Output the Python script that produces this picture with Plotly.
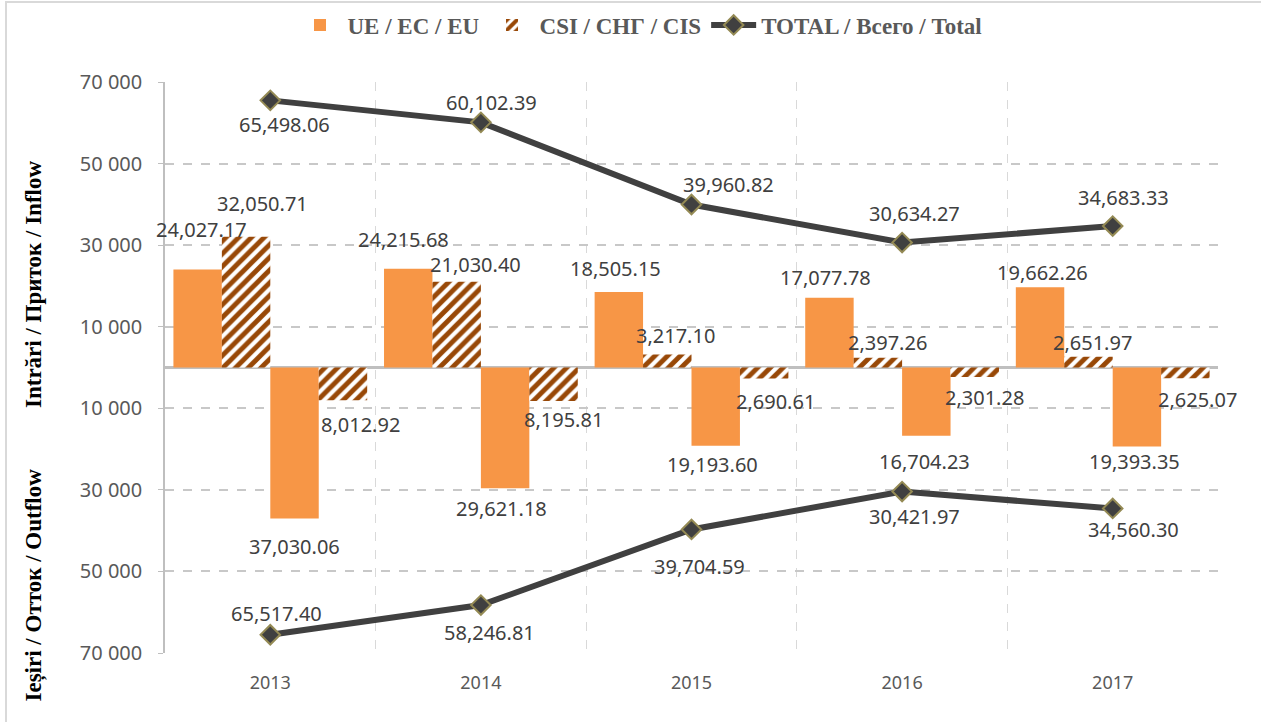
import plotly.graph_objects as go

years = ["2013", "2014", "2015", "2016", "2017"]
eu_in = [24027.17, 24215.68, 18505.15, 17077.78, 19662.26]
cis_in = [32050.71, 21030.40, 3217.10, 2397.26, 2651.97]
eu_out = [37030.06, 29621.18, 19193.60, 16704.23, 19393.35]
cis_out = [8012.92, 8195.81, 2690.61, 2301.28, 2625.07]
total_in = [65498.06, 60102.39, 39960.82, 30634.27, 34683.33]
total_out = [65517.40, 58246.81, 39704.59, 30421.97, 34560.30]

ytick_vals = [-70000, -50000, -30000, -10000, 10000, 30000, 50000, 70000]
ytick_text = ["70 000", "50 000", "30 000", "10 000", "10 000", "30 000", "50 000", "70 000"]

# label offsets (pixels): dx, dy (dy positive = up)
lab_eu_in = ([4, -5, -3, -4, 2], [40, 29, 24, 20, 15])
lab_cis_in = ([16, 19, 8, 10, 4], [33, 17, 19, 15, 14])
lab_eu_out = ([0, -4, -3, -2, -2], [-28, -20, -19, -26, -15])
lab_cis_out = ([18, 10, 11, 10, 12], [-24, -19, -23, -21, -21])
lab_tot_in = ([14, 11, 37, 12, 11], [-24, 20, 20, 29, 29])
lab_tot_out = ([6, 9, 8, 12, 21], [21, -27, -37, -25, -21])

ORANGE = "#F79646"
BROWN = "#984807"
LINEC = "#404040"
MARK_EDGE = "#948A54"
GRID = "#C8C8C8"
TXT = "#404040"
TICK = "#595959"
SERIF = "Liberation Serif"
SANS = "Noto Sans"

W, H = 1261, 722
ML, MR, MT, MB = 165, 43, 82, 69
PW, PH = W - ML - MR, H - MT - MB
BARGAP = 0.08

hatch = dict(shape="/", fgcolor=BROWN, bgcolor="white", size=9, solidity=0.55, fgopacity=1)

fig = go.Figure()
fig.add_trace(go.Bar(x=years, y=eu_in, name="UE / EC / EU", legendgroup="eu",
                     marker=dict(color=ORANGE, line=dict(width=0))))
fig.add_trace(go.Bar(x=years, y=cis_in, name="CSI / СНГ / CIS", legendgroup="cis",
                     marker=dict(color="white", pattern=hatch, line=dict(width=0))))
fig.add_trace(go.Bar(x=years, y=[-v for v in eu_out], name="UE / EC / EU", legendgroup="eu",
                     showlegend=False, marker=dict(color=ORANGE, line=dict(width=0))))
fig.add_trace(go.Bar(x=years, y=[-v for v in cis_out], name="CSI / СНГ / CIS", legendgroup="cis",
                     showlegend=False, marker=dict(color="white", pattern=hatch, line=dict(width=0))))

line_style = dict(color=LINEC, width=6)
marker_style = dict(symbol="diamond", size=15, color=LINEC, line=dict(color=MARK_EDGE, width=2))
fig.add_trace(go.Scatter(x=years, y=total_in, mode="lines+markers", name="TOTAL / Всего / Total",
                         legendgroup="tot", line=line_style, marker=marker_style))
fig.add_trace(go.Scatter(x=years, y=[-v for v in total_out], mode="lines+markers",
                         name="TOTAL / Всего / Total", legendgroup="tot", showlegend=False,
                         line=line_style, marker=marker_style))

# data labels
bw = (1 - BARGAP) / 4
offsets = [-1.5 * bw, -0.5 * bw, 0.5 * bw, 1.5 * bw]
annotations = []

def fmt(v):
    return f"{v:,.2f}"

series = [
    (eu_in, 1, offsets[0], lab_eu_in),
    (cis_in, 1, offsets[1], lab_cis_in),
    (eu_out, -1, offsets[2], lab_eu_out),
    (cis_out, -1, offsets[3], lab_cis_out),
    (total_in, 1, 0.0, lab_tot_in),
    (total_out, -1, 0.0, lab_tot_out),
]
for vals, sign, off, (dxs, dys) in series:
    for i, v in enumerate(vals):
        annotations.append(dict(
            x=i + off, y=sign * v, xref="x", yref="y", text=fmt(v), showarrow=False,
            xshift=dxs[i], yshift=dys[i], font=dict(family=SANS, size=20, color=TXT),
        ))

# y-axis titles
def py(pix):
    return (H - MB - pix) / PH

def px(pix):
    return (pix - ML) / PW

annotations.append(dict(x=px(33), y=py(285), xref="paper", yref="paper",
                        text="Intrări / Приток / Inflow", textangle=-90, showarrow=False,
                        xanchor="center", yanchor="middle",
                        font=dict(family=SERIF, size=23, color="#000000", weight="bold")))
annotations.append(dict(x=px(33), y=py(704), xref="paper", yref="paper",
                        text="Ieșiri / Отток / Outflow", textangle=-90, showarrow=False,
                        xanchor="center", yanchor="bottom",
                        font=dict(family=SERIF, size=23, color="#000000", weight="bold")))

shapes = [dict(type="rect", xref="paper", yref="paper",
               x0=px(6), x1=px(W + 20), y0=py(H + 20), y1=py(2),
               line=dict(color="#D9D9D9", width=2), fillcolor="rgba(0,0,0,0)", layer="below")]

fig.update_layout(
    width=W, height=H, autosize=False,
    margin=dict(l=ML, r=MR, t=MT, b=MB, autoexpand=False),
    paper_bgcolor="white", plot_bgcolor="white",
    barmode="group", bargap=BARGAP, bargroupgap=0,
    annotations=annotations, shapes=shapes,
    legend=dict(orientation="h", x=px(640), xanchor="center", y=py(25), yanchor="middle",
                font=dict(family=SERIF, size=23, color=TICK, weight="bold"),
                bgcolor="rgba(0,0,0,0)", traceorder="normal", itemwidth=45),
    xaxis=dict(type="category", range=[-0.5, 4.5], tickson="boundaries", showgrid=True,
               gridcolor="#D9D9D9", griddash="dash", gridwidth=1, ticks="", showline=False,
               zeroline=False, automargin=False,
               tickfont=dict(family=SANS, size=18, color=TICK), ticklabelstandoff=17),
    yaxis=dict(range=[-70000, 70000], tickvals=ytick_vals, ticktext=ytick_text, automargin=False,
               showgrid=True, gridcolor=GRID, griddash="dash", gridwidth=1.5,
               zeroline=True, zerolinecolor="#BFBFBF", zerolinewidth=2.5,
               showline=True, linecolor="#BFBFBF", linewidth=1.5,
               ticks="outside", ticklen=5, tickcolor="#BFBFBF", ticklabelstandoff=12,
               tickfont=dict(family=SANS, size=20, color=TICK)),
    showlegend=True,
)

fig.write_html("out.html", config={"displayModeBar": False},
               post_script="document.body.style.margin='0px';document.body.style.overflow='hidden';")
